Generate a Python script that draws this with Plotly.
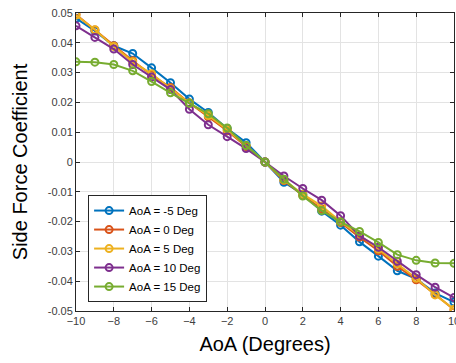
import plotly.graph_objects as go

aoa = list(range(-10, 11))
names = ["AoA = -5 Deg", "AoA = 0 Deg", "AoA = 5 Deg", "AoA = 10 Deg", "AoA = 15 Deg"]
colors = ["#0072BD", "#D95319", "#EDB120", "#7E2F8E", "#77AC30"]

cy_m5 = [0.0482, 0.0440, 0.0390, 0.0364, 0.0316, 0.0266, 0.0211, 0.0166, 0.0112, 0.0065, 0,
         -0.0068, -0.0108, -0.0165, -0.0212, -0.0268, -0.0316, -0.0365, -0.0392, -0.0440, -0.0470]
cy_0 = [0.0495, 0.0443, 0.0390, 0.0340, 0.0292, 0.0250, 0.0198, 0.0152, 0.0105, 0.0052, 0,
        -0.0062, -0.0112, -0.0158, -0.0203, -0.0252, -0.0298, -0.0350, -0.0395, -0.0444, -0.0496]
cy_5 = [0.0493, 0.0444, 0.0388, 0.0336, 0.0296, 0.0246, 0.0198, 0.0156, 0.0108, 0.0055, 0,
        -0.0060, -0.0108, -0.0148, -0.0200, -0.0246, -0.0292, -0.0342, -0.0390, -0.0446, -0.0494]
cy_10 = [0.0457, 0.0418, 0.0379, 0.0327, 0.0285, 0.0243, 0.0177, 0.0125, 0.0085, 0.0045, 0,
         -0.0047, -0.0089, -0.0128, -0.0180, -0.0248, -0.0286, -0.0333, -0.0378, -0.0420, -0.0455]
cy_15 = [0.0336, 0.0335, 0.0327, 0.0306, 0.0270, 0.0232, 0.0197, 0.0162, 0.0114, 0.0055, 0,
         -0.0058, -0.0114, -0.0163, -0.0201, -0.0233, -0.0270, -0.0311, -0.0330, -0.0339, -0.0340]
series = [cy_m5, cy_0, cy_5, cy_10, cy_15]

x_ticks = list(range(-10, 11, 2))
y_ticks = [-0.05, -0.04, -0.03, -0.02, -0.01, 0, 0.01, 0.02, 0.03, 0.04, 0.05]
y_labels = ["-0.05", "-0.04", "-0.03", "-0.02", "-0.01", "0", "0.01", "0.02", "0.03", "0.04", "0.05"]

fig = go.Figure()
for name, col, ys in zip(names, colors, series):
    fig.add_trace(go.Scatter(
        x=aoa, y=ys, name=name, mode="lines+markers",
        line=dict(color=col, width=2),
        marker=dict(symbol="circle-open", size=7, color=col, line=dict(width=2, color=col)),
    ))

axis_common = dict(
    showline=True, linecolor="#262626", linewidth=1, mirror="ticks",
    ticks="inside", ticklen=4, tickcolor="#262626",
    showgrid=True, gridcolor="#e3e3e3", gridwidth=1, zeroline=False,
    tickfont=dict(family="Liberation Sans", size=11, color="#404040"),
    ticklabeloverflow="allow", automargin=False,
)

fig.update_layout(
    width=456, height=363,
    margin=dict(l=76, r=2, t=13, b=52),
    paper_bgcolor="white", plot_bgcolor="white",
    font=dict(family="Liberation Sans"),
    xaxis=dict(range=[-10, 10], tickvals=x_ticks,
               title=dict(text="AoA (Degrees)", font=dict(family="Liberation Sans", size=20, color="black"), standoff=10),
               **axis_common),
    yaxis=dict(range=[-0.05, 0.05], tickvals=y_ticks, ticktext=y_labels,
               title=dict(text="Side Force Coefficient", font=dict(family="Liberation Sans", size=20, color="black"), standoff=14),
               **axis_common),
    legend=dict(x=0.032, y=0.03, xanchor="left", yanchor="bottom",
                bgcolor="white", bordercolor="#262626", borderwidth=1,
                font=dict(family="Liberation Sans", size=11.5, color="black"),
                tracegroupgap=0, itemwidth=30),
    showlegend=True,
)

fig.write_html("out.html")
